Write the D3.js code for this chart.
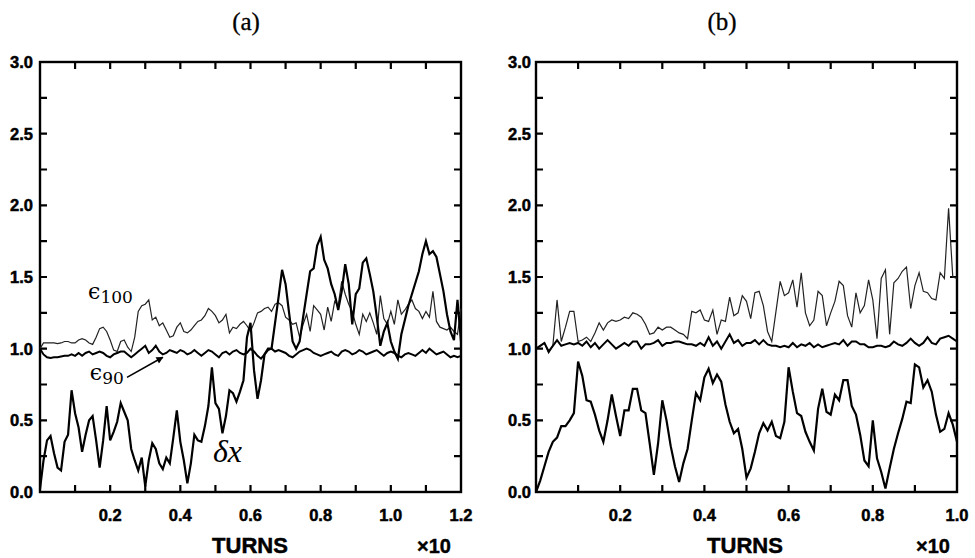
<!DOCTYPE html>
<html>
<head>
<meta charset="utf-8">
<script src="https://cdn.jsdelivr.net/npm/d3@7/dist/d3.min.js"></script>
<style>
  body { margin: 0; background: #fff; }
  .tick-label { font-family: "Liberation Sans", Arial, sans-serif; font-weight: bold; font-size: 16.5px; stroke: #000; stroke-width: 0.5px; }
</style>
</head>
<body>
<div id="chart"></div>
<script>
// samples are every 0.01 (x10 turns)
const step = 0.01;

const yTicks = [0, 0.5, 1.0, 1.5, 2.0, 2.5, 3.0];
const yMinor = [0.25, 0.5, 0.75, 1.0, 1.25, 1.5, 1.75, 2.0, 2.25, 2.5, 2.75];

const aXLabels = [0.2, 0.4, 0.6, 0.8, 1.0, 1.2];
const aXMinor = [0.1, 0.2, 0.3, 0.4, 0.5, 0.6, 0.7, 0.8, 0.9, 1.0, 1.1];
const bXLabels = [0.2, 0.4, 0.6, 0.8, 1.0];
const bXMinor = [0.1, 0.2, 0.3, 0.4, 0.5, 0.6, 0.7, 0.8, 0.9];

// panel (a)
const aDx = [
  0.02, 0.22, 0.36, 0.39, 0.27, 0.17, 0.15, 0.35, 0.40, 0.71,
  0.55, 0.45, 0.28, 0.40, 0.50, 0.53, 0.36, 0.17, 0.36, 0.60,
  0.36, 0.42, 0.49, 0.62, 0.56, 0.50, 0.30, 0.22, 0.15, 0.24,
  0.04, 0.22, 0.34, 0.30, 0.20, 0.16, 0.24, 0.20, 0.38, 0.57,
  0.35, 0.22, 0.06, 0.20, 0.40, 0.36, 0.35, 0.46, 0.60, 0.87,
  0.62, 0.58, 0.41, 0.53, 0.71, 0.69, 0.63, 0.70, 0.78, 1.08,
  1.18, 0.85, 0.65, 0.78, 0.96, 1.00, 1.00, 1.18, 1.36, 1.55,
  1.45, 1.25, 1.05, 1.00, 1.05, 1.22, 1.38, 1.54, 1.56, 1.72,
  1.78, 1.62, 1.56, 1.45, 1.38, 1.27, 1.40, 1.59, 1.45, 1.17,
  1.38, 1.42, 1.60, 1.63, 1.52, 1.40, 1.22, 1.02, 1.12, 1.18,
  1.05, 0.98, 0.93, 1.10, 1.20, 1.30, 1.38, 1.46, 1.54, 1.66,
  1.75, 1.66, 1.68, 1.64, 1.52, 1.40, 1.24, 1.12, 1.06, 1.34,
  1.05
];
const aE100 = [
  1.00, 1.04, 1.04, 1.04, 1.04, 1.035, 1.04, 1.05, 1.05, 1.04,
  1.04, 1.06, 1.07, 1.06, 1.04, 1.03, 1.08, 1.14, 1.15, 1.12,
  1.06, 0.99, 0.98, 1.05, 1.06, 1.01, 0.98, 1.08, 1.26, 1.30,
  1.31, 1.34, 1.20, 1.22, 1.16, 1.18, 1.13, 1.08, 1.09, 1.15,
  1.18, 1.12, 1.11, 1.13, 1.16, 1.19, 1.20, 1.23, 1.28, 1.26,
  1.23, 1.18, 1.20, 1.24, 1.11, 1.15, 1.14, 1.17, 1.19, 1.16,
  1.12, 1.18, 1.25, 1.26, 1.28, 1.29, 1.26, 1.31, 1.32, 1.30,
  1.22, 1.20, 1.17, 1.18, 1.08, 1.17, 1.24, 1.12, 1.30, 1.27,
  1.24, 1.13, 1.29, 1.19, 1.33, 1.30, 1.47, 1.38, 1.31, 1.26,
  1.17, 1.10, 1.24, 1.19, 1.25, 1.18, 1.10, 1.37, 1.21, 1.17,
  1.26, 1.17, 1.34, 1.24, 1.27, 1.31, 1.34, 1.28, 1.26, 1.21,
  1.26, 1.22, 1.40, 1.19, 1.15, 1.14, 1.13, 1.15, 1.12, 1.10,
  1.28
];
const aE90 = [
  1.00, 0.96, 0.94, 0.935, 0.94, 0.94, 0.945, 0.95, 0.95, 0.96,
  0.95, 0.97, 0.95, 0.97, 0.98, 0.96, 0.97, 0.98, 0.97, 0.95,
  0.94, 0.96, 0.97, 0.98, 0.98, 0.96, 0.94, 0.96, 0.98, 1.00,
  1.02, 0.97, 0.99, 1.02, 0.98, 0.96, 0.97, 0.99, 0.98, 0.97,
  0.99, 0.98, 0.96, 0.97, 0.99, 0.97, 0.95, 0.97, 0.99, 0.98,
  0.96, 0.94, 0.97, 0.98, 0.96, 0.98, 0.99, 0.97, 0.96, 0.97,
  1.00, 0.98, 0.95, 0.93, 0.96, 0.99, 1.00, 0.98, 0.99, 0.98,
  0.97, 0.95, 0.94, 0.96, 0.98, 0.99, 1.00, 0.99, 0.97, 0.96,
  0.95, 0.96, 0.97, 0.98, 0.96, 0.95, 0.98, 0.99, 0.98, 0.96,
  0.97, 0.99, 0.98, 0.96, 0.97, 0.98, 0.99, 0.97, 0.95, 0.97,
  0.98, 0.97, 0.95, 0.94, 0.96, 0.97, 0.96, 0.95, 0.97, 0.99,
  0.97, 1.00, 0.98, 0.96, 0.97, 0.98, 0.96, 0.94, 0.95, 0.94,
  0.95
];

// panel (b)
const bDx = [
  0.00, 0.08, 0.18, 0.28, 0.35, 0.38, 0.46, 0.46, 0.50, 0.55,
  0.91, 0.81, 0.64, 0.63, 0.54, 0.43, 0.35, 0.50, 0.68, 0.53,
  0.39, 0.57, 0.57, 0.72, 0.72, 0.57, 0.55, 0.34, 0.12, 0.34,
  0.64, 0.50, 0.32, 0.18, 0.07, 0.20, 0.30, 0.50, 0.69, 0.64,
  0.80, 0.86, 0.76, 0.82, 0.77, 0.61, 0.49, 0.41, 0.44, 0.30,
  0.10, 0.165, 0.28, 0.41, 0.48, 0.43, 0.49, 0.39, 0.375, 0.49,
  0.87, 0.70, 0.55, 0.53, 0.42, 0.35, 0.29, 0.58, 0.72, 0.56,
  0.54, 0.68, 0.64, 0.78, 0.78, 0.60, 0.54, 0.40, 0.22, 0.18,
  0.50, 0.235, 0.14, 0.025, 0.165, 0.30, 0.41, 0.51, 0.63, 0.62,
  0.89, 0.87, 0.73, 0.78, 0.70, 0.54, 0.42, 0.44, 0.55, 0.47,
  0.35
];
const bE100 = [
  1.00, 1.02, 1.04, 0.97, 1.02, 1.34, 1.05, 1.15, 1.26, 1.26,
  1.05, 1.06, 1.08, 1.05, 1.11, 1.18, 1.13, 1.18, 1.20, 1.19,
  1.20, 1.22, 1.21, 1.25, 1.24, 1.22, 1.17, 1.10, 1.11, 1.15,
  1.13, 1.15, 1.15, 1.13, 1.11, 1.10, 1.07, 1.26, 1.25, 1.27,
  1.20, 1.19, 1.27, 1.10, 1.20, 1.19, 1.36, 1.23, 1.25, 1.37,
  1.33, 1.21, 1.39, 1.40, 1.30, 1.12, 1.05, 1.26, 1.47, 1.37,
  1.39, 1.48, 1.29, 1.53, 1.25, 1.16, 1.20, 1.40, 1.37, 1.16,
  1.25, 1.33, 1.47, 1.44, 1.23, 1.15, 1.39, 1.25, 1.30, 1.48,
  1.34, 1.07, 1.49, 1.55, 1.10, 1.46, 1.49, 1.54, 1.57, 1.28,
  1.44, 1.53, 1.40, 1.39, 1.35, 1.34, 1.53, 1.49, 1.98, 1.50,
  1.49
];
const bE90 = [
  1.00, 1.02, 1.04, 0.98, 1.02, 1.06, 1.02, 1.03, 1.04, 1.03,
  1.04, 1.02, 1.05, 1.01, 1.04, 1.00, 1.03, 1.06, 1.03, 1.00,
  1.02, 1.04, 1.02, 1.05, 1.05, 1.00, 1.03, 1.03, 1.04, 1.06,
  1.02, 1.04, 1.04, 1.05, 1.05, 1.04, 1.03, 1.03, 1.02, 1.04,
  1.02, 1.08, 1.02, 1.05, 1.00, 1.05, 1.10, 1.04, 1.06, 1.02,
  1.04, 1.04, 1.06, 1.03, 1.06, 1.03, 1.02, 1.02, 1.01, 1.02,
  1.01, 1.04, 1.01, 1.03, 1.02, 1.04, 1.01, 1.03, 1.01, 1.02,
  1.03, 1.04, 1.03, 1.06, 1.02, 1.05, 1.05, 1.03, 1.03, 1.01,
  1.01, 1.02, 1.02, 1.01, 1.02, 1.05, 1.03, 1.02, 1.04, 1.07,
  1.04, 1.02, 1.04, 1.08, 1.04, 1.03, 1.07, 1.08, 1.09, 1.07,
  1.05
];

const width = 975;
const height = 558;

const svg = d3.select("#chart")
  .append("svg")
  .attr("width", width)
  .attr("height", height);

function drawPanel(opts) {
  const x = d3.scaleLinear().domain([0, opts.xMax]).range([opts.left, opts.right]);
  const y = d3.scaleLinear().domain([0, 3]).range([492, 62]);
  const g = svg.append("g");
  const tl = 7;

  // frame
  g.append("rect")
    .attr("x", x(0)).attr("y", y(3))
    .attr("width", x(opts.xMax) - x(0)).attr("height", y(0) - y(3))
    .attr("fill", "none").attr("stroke", "#000").attr("stroke-width", 2.4);

  // inward ticks on all four sides
  g.selectAll(".xt").data(opts.xMinor).enter().append("path")
    .attr("d", d => `M${x(d)},${y(0)}v${-tl}M${x(d)},${y(3)}v${tl}`)
    .attr("stroke", "#000").attr("stroke-width", 2.2);
  g.selectAll(".yt").data(yMinor).enter().append("path")
    .attr("d", d => `M${x(0)},${y(d)}h${tl}M${x(opts.xMax)},${y(d)}h${-tl}`)
    .attr("stroke", "#000").attr("stroke-width", 2.2);

  g.selectAll(".xl").data(opts.xLabels).enter().append("text")
    .attr("class", "tick-label")
    .attr("x", d => x(d)).attr("y", 521)
    .attr("text-anchor", "middle")
    .text(d => d.toFixed(1));
  g.selectAll(".yl").data(yTicks).enter().append("text")
    .attr("class", "tick-label")
    .attr("x", x(0) - opts.labelGap).attr("y", d => y(d) + 6)
    .attr("text-anchor", "end")
    .text(d => d.toFixed(1));

  g.append("text")
    .attr("x", opts.turnsX).attr("y", 553)
    .attr("text-anchor", "middle")
    .style("font-family", "Liberation Sans, Arial, sans-serif")
    .style("font-weight", "bold").style("font-size", "22px")
    .style("stroke", "#000").style("stroke-width", "0.5px")
    .text("TURNS");
  g.append("text")
    .attr("x", opts.timesX).attr("y", 553)
    .attr("text-anchor", "middle")
    .style("font-family", "Liberation Sans, Arial, sans-serif")
    .style("font-weight", "bold").style("font-size", "20px")
    .style("stroke", "#000").style("stroke-width", "0.4px")
    .text("×10");

  g.append("text")
    .attr("x", opts.titleX).attr("y", 30)
    .attr("text-anchor", "middle")
    .style("font-family", "Liberation Serif, serif")
    .style("font-size", "25px")
    .style("stroke", "#000").style("stroke-width", "0.3px")
    .text(opts.title);

  const line = d3.line()
    .x((d, i) => x(i * step))
    .y(d => y(d));

  const series = [
    { values: opts.e100, w: 1.2, c: "#222" },
    { values: opts.e90, w: 2.0, c: "#000" },
    { values: opts.dx, w: 2.2, c: "#000" }
  ];
  g.selectAll(".series").data(series).enter().append("path")
    .attr("d", d => line(d.values))
    .attr("fill", "none")
    .attr("stroke", d => d.c)
    .attr("stroke-width", d => d.w)
    .attr("stroke-linejoin", "miter");

  return { x, y, g };
}

const pa = drawPanel({
  left: 40, right: 461, xMax: 1.2,
  xLabels: aXLabels, xMinor: aXMinor,
  dx: aDx, e100: aE100, e90: aE90,
  labelGap: 7, turnsX: 250, timesX: 434, titleX: 246, title: "(a)"
});
drawPanel({
  left: 536, right: 957, xMax: 1.0,
  xLabels: bXLabels, xMinor: bXMinor,
  dx: bDx, e100: bE100, e90: bE90,
  labelGap: 5, turnsX: 745, timesX: 933, titleX: 722, title: "(b)"
});

// annotations in panel (a)
const serif = "DejaVu Serif, Liberation Serif, serif";
const e100Label = pa.g.append("text")
  .attr("x", pa.x(0.137)).attr("y", pa.y(1.35))
  .style("font-family", serif).style("font-size", "22px");
e100Label.append("tspan").text("ϵ");
e100Label.append("tspan").attr("dy", 4).style("font-size", "17px").text("100");

const e90Label = pa.g.append("text")
  .attr("x", pa.x(0.142)).attr("y", pa.y(0.78))
  .style("font-family", serif).style("font-size", "22px");
e90Label.append("tspan").text("ϵ");
e90Label.append("tspan").attr("dy", 4).style("font-size", "17px").text("90");

svg.append("defs").append("marker")
  .attr("id", "arrow")
  .attr("viewBox", "0 0 10 10")
  .attr("refX", 9).attr("refY", 5)
  .attr("markerWidth", 10).attr("markerHeight", 7)
  .attr("markerUnits", "userSpaceOnUse")
  .attr("orient", "auto")
  .append("path").attr("d", "M0,0L10,5L0,10Z").attr("fill", "#000");

pa.g.append("line")
  .attr("x1", pa.x(0.248)).attr("y1", pa.y(0.80))
  .attr("x2", pa.x(0.35)).attr("y2", pa.y(0.94))
  .attr("stroke", "#000").attr("stroke-width", 1.6)
  .attr("marker-end", "url(#arrow)");

pa.g.append("text")
  .attr("x", pa.x(0.493)).attr("y", pa.y(0.21))
  .style("font-family", "Liberation Serif, serif")
  .style("font-style", "italic").style("font-size", "32px")
  .text("δx");
</script>
</body>
</html>
